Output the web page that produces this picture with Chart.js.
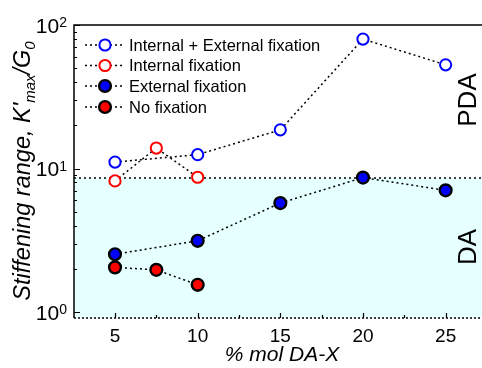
<!DOCTYPE html>
<html>
<head>
<meta charset="utf-8">
<script src="https://cdn.jsdelivr.net/npm/chart.js@4"></script>
<style>
  html, body { margin: 0; padding: 0; background: #fff; }
  canvas { display: block; }
</style>
</head>
<body>
<canvas id="chart" width="482" height="368"></canvas>
<script>
// % mol DA-X for each series
const molFull = [5, 10, 15, 20, 25];
const molPartial = [5, 7.5, 10];

// Stiffening range K'max/G0
const internalExternal = [11.1, 12.5, 18.6, 79.8, 52.8];
const internalOnly = [8.2, 13.9, 8.7];
const externalOnly = [2.53, 3.14, 5.75, 8.65, 7.05];
const noFixation = [2.05, 1.97, 1.55];

// Boundary between the DA and PDA regimes
const regimeThreshold = 8.6;

const seriesNames = ['Internal + External fixation', 'Internal fixation', 'External fixation', 'No fixation'];
const xTickValues = [5, 10, 15, 20, 25];
const xMinorTicks = [7.5, 12.5, 17.5, 22.5];
const yTickValues = [1, 10, 100];
const yTickExponents = ['0', '1', '2'];

const FONT = '"Liberation Sans", Arial, Helvetica, sans-serif';

function pts(xs, ys) { return xs.map((x, i) => ({ x, y: ys[i] })); }

const styles = [
  { pointBorderColor: '#0000ff', pointBackgroundColor: '#ffffff', pointRadius: 5.6, pointBorderWidth: 2 },
  { pointBorderColor: '#ff0000', pointBackgroundColor: '#ffffff', pointRadius: 5.6, pointBorderWidth: 2 },
  { pointBorderColor: '#000000', pointBackgroundColor: '#0000ff', pointRadius: 5.9, pointBorderWidth: 2.4 },
  { pointBorderColor: '#000000', pointBackgroundColor: '#ff0000', pointRadius: 5.9, pointBorderWidth: 2.4 }
];

const seriesData = [
  pts(molFull, internalExternal),
  pts(molPartial, internalOnly),
  pts(molFull, externalOnly),
  pts(molPartial, noFixation)
];

const datasets = seriesData.map((d, i) => Object.assign({
  label: seriesNames[i],
  data: d,
  showLine: true,
  borderColor: '#000000',
  borderWidth: 1.5,
  borderDash: [2, 3],
  pointHoverRadius: 6,
  tension: 0
}, styles[i]));

// Draws the shaded DA region, frame, ticks, labels and legend
const decorations = {
  id: 'decorations',
  beforeDatasetsDraw(chart) {
    const { ctx, chartArea: a, scales: { x, y } } = chart;
    const ty = y.getPixelForValue(regimeThreshold);
    ctx.save();
    ctx.fillStyle = '#e6ffff';
    ctx.fillRect(a.left, ty, a.right - a.left, a.bottom - ty);
    ctx.strokeStyle = '#000';
    ctx.lineWidth = 1.5;
    ctx.setLineDash([2, 3]);
    ctx.beginPath();
    ctx.moveTo(a.left, ty);
    ctx.lineTo(a.right, ty);
    ctx.stroke();
    ctx.restore();
  },
  afterDatasetsDraw(chart) {
    const { ctx, chartArea: a, scales: { x, y } } = chart;
    ctx.save();
    // frame
    ctx.strokeStyle = '#000';
    ctx.lineWidth = 1.5;
    ctx.setLineDash([]);
    ctx.beginPath();
    ctx.moveTo(a.right, a.top);
    ctx.lineTo(a.left, a.top);
    ctx.lineTo(a.left, a.bottom);
    ctx.stroke();
    ctx.setLineDash([2, 2]);
    ctx.beginPath();
    ctx.moveTo(a.left, a.bottom);
    ctx.lineTo(a.right, a.bottom);
    ctx.stroke();
    ctx.setLineDash([]);

    // x ticks
    ctx.lineWidth = 1.2;
    ctx.beginPath();
    xTickValues.forEach(v => {
      const px = Math.round(x.getPixelForValue(v)) + 0.5;
      ctx.moveTo(px, a.bottom); ctx.lineTo(px, a.bottom - 5);
    });
    xMinorTicks.forEach(v => {
      const px = Math.round(x.getPixelForValue(v)) + 0.5;
      ctx.moveTo(px, a.bottom); ctx.lineTo(px, a.bottom - 3);
    });
    // y ticks
    yTickValues.forEach(v => {
      const py = Math.round(y.getPixelForValue(v)) + 0.5;
      ctx.moveTo(a.left, py); ctx.lineTo(a.left + 6, py);
    });
    [1, 10].forEach(dec => {
      for (let k = 2; k <= 9; k++) {
        const v = dec * k;
        if (v < y.min || v > y.max) continue;
        const py = Math.round(y.getPixelForValue(v)) + 0.5;
        ctx.moveTo(a.left, py); ctx.lineTo(a.left + 3, py);
      }
    });
    ctx.stroke();

    // x tick labels
    ctx.fillStyle = '#000';
    ctx.font = '19px ' + FONT;
    ctx.textAlign = 'center';
    ctx.textBaseline = 'middle';
    xTickValues.forEach(v => ctx.fillText(String(v), x.getPixelForValue(v), 337));

    // y tick labels (10 with superscript exponent)
    yTickValues.forEach((v, i) => {
      const py = y.getPixelForValue(v);
      ctx.font = '14px ' + FONT;
      const ew = ctx.measureText(yTickExponents[i]).width;
      ctx.textAlign = 'left';
      ctx.textBaseline = 'alphabetic';
      const right = 67;
      ctx.fillText(yTickExponents[i], right - ew, py + 2);
      ctx.font = '21px ' + FONT;
      ctx.textAlign = 'right';
      ctx.fillText('10', right - ew, py + 7.5);
    });

    // x axis title
    ctx.font = 'italic 21px ' + FONT;
    ctx.textAlign = 'center';
    ctx.textBaseline = 'middle';
    ctx.fillText('% mol DA-X', 282, 355);

    // y axis title with subscripts
    const parts = [
      { t: "Stiffening range, K'", f: 'italic 23.5px ' + FONT, dy: 0 },
      { t: 'max', f: 'italic 15px ' + FONT, dy: 5 },
      { t: '/G', f: 'italic 23.5px ' + FONT, dy: 0 },
      { t: '0', f: 'italic 15px ' + FONT, dy: 5 }
    ];
    let total = 0;
    parts.forEach(p => { ctx.font = p.f; p.w = ctx.measureText(p.t).width; total += p.w; });
    ctx.translate(30, 171);
    ctx.rotate(-Math.PI / 2);
    ctx.textAlign = 'left';
    ctx.textBaseline = 'alphabetic';
    let cx = -total / 2;
    parts.forEach(p => { ctx.font = p.f; ctx.fillText(p.t, cx, p.dy); cx += p.w; });
    ctx.setTransform(1, 0, 0, 1, 0, 0);

    // regime labels
    ctx.font = '26px ' + FONT;
    ctx.textAlign = 'center';
    ctx.textBaseline = 'middle';
    [['PDA', 100], ['DA', 247]].forEach(([t, cy]) => {
      ctx.save();
      ctx.translate(468, cy);
      ctx.rotate(-Math.PI / 2);
      ctx.fillText(t, 0, 1);
      ctx.restore();
    });

    // legend
    const rows = [45, 65.5, 86, 107];
    chart.data.datasets.forEach((ds, i) => {
      const ry = rows[i];
      ctx.strokeStyle = '#000';
      ctx.lineWidth = 1.5;
      ctx.setLineDash([2, 3]);
      ctx.beginPath();
      ctx.moveTo(85, ry); ctx.lineTo(125, ry);
      ctx.stroke();
      ctx.setLineDash([]);
      ctx.beginPath();
      ctx.arc(105, ry, ds.pointRadius, 0, Math.PI * 2);
      ctx.fillStyle = ds.pointBackgroundColor;
      ctx.fill();
      ctx.lineWidth = ds.pointBorderWidth;
      ctx.strokeStyle = ds.pointBorderColor;
      ctx.stroke();
      ctx.fillStyle = '#000';
      ctx.font = '16.5px ' + FONT;
      ctx.textAlign = 'left';
      ctx.textBaseline = 'middle';
      ctx.fillText(ds.label, 129, ry + 1);
    });
    ctx.restore();
  }
};

new Chart(document.getElementById('chart'), {
  type: 'line',
  data: { datasets },
  options: {
    responsive: false,
    animation: false,
    devicePixelRatio: 1,
    layout: { autoPadding: false, padding: { left: 74, top: 25, right: 0, bottom: 50 } },
    plugins: { legend: { display: false }, tooltip: { enabled: false } },
    scales: {
      x: { type: 'linear', min: 2.52, max: 27.2, display: false },
      y: { type: 'logarithmic', min: 0.91, max: 100, display: false }
    }
  },
  plugins: [decorations]
});
</script>
</body>
</html>
